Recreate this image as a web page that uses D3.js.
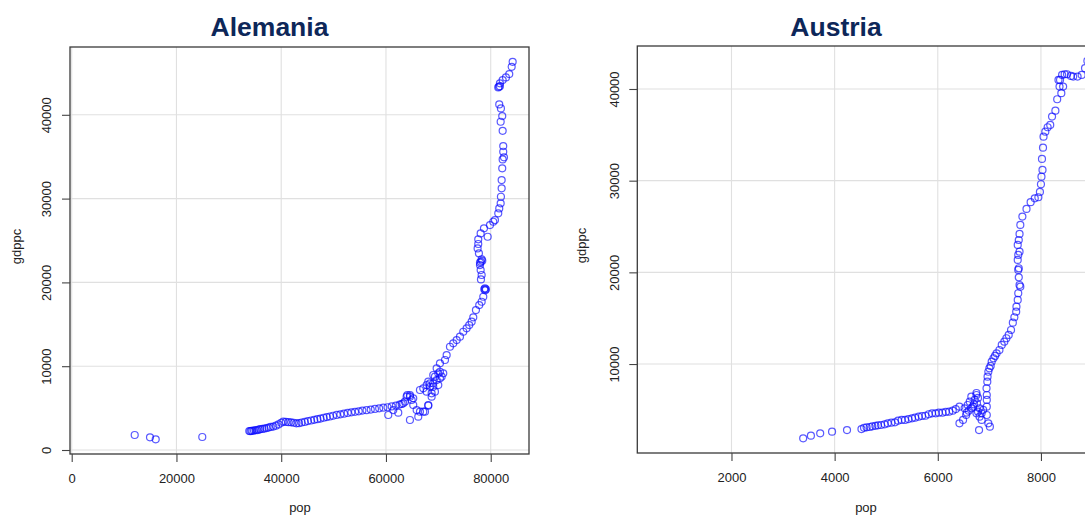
<!DOCTYPE html>
<html>
<head>
<meta charset="utf-8">
<script src="https://cdn.jsdelivr.net/npm/d3@7"></script>
<style>
  html, body { margin: 0; padding: 0; background: #ffffff; }
  svg { display: block; font-family: "Liberation Sans", Arial, Helvetica, sans-serif; }
</style>
</head>
<body>
<svg id="chart" width="1085" height="517"></svg>
<script>
// Germany: population (thousands) and GDP per capita
const deuPop = [
  12030, 14950, 16040, 24930,
  33900, 34100, 34300, 34500, 34800, 35100, 35400, 35700, 36000, 36400, 36800, 37200, 37600, 38000,
  38500, 39000, 39500, 40000, 40400, 40900, 41400, 41900, 42400, 42900, 43400, 43900, 44500, 45100,
  45700, 46300, 46900, 47500, 48100, 48700, 49300, 49900, 50600, 51300, 52000, 52700, 53400, 54100,
  54800, 55500, 56300, 57100, 57900, 58700, 59500, 60300, 61100, 61900, 62600,
  63000, 63630, 64070, 64580, 64900, 65210, 60440, 61400, 62350, 63300, 63950, 64580, 65210, 64580,
  66170, 65860, 67120, 68080, 66490, 67450, 68080, 68720, 69350, 69990, 70310, 70940, 66490, 67120,
  67770, 68720, 69030, 67770, 68400, 68400, 69030, 69350, 69680, 69990, 70310, 70630, 68080, 69030,
  69680, 70310,
  71270, 71590, 72220, 72850, 73500, 74130, 74760, 75400, 75900, 76360, 76670, 77180, 77810, 78270,
  78580, 78770, 78900, 79090, 78950,
  78140, 78270, 78080, 77950, 77950, 78140, 78270, 78390, 77750, 77500, 77620, 77620, 78080, 78710,
  79420, 79860, 80490, 80810, 81440, 81630, 81900, 81950, 82090, 82090, 82200, 82280, 82530, 82390,
  82390, 82280, 81900, 82200, 81950, 81630, 81440, 81570, 81760, 81760, 82280, 82910, 83540, 84000,
  84190
];
const deuGdppc = [
  1790, 1515, 1277, 1550,
  2270, 2250, 2300, 2280, 2330, 2380, 2360, 2430, 2480, 2520, 2560, 2620, 2680, 2750,
  2800, 2900, 3050, 3250, 3380, 3350, 3320, 3300, 3250, 3180, 3200, 3280, 3350, 3450,
  3520, 3600, 3680, 3750, 3850, 3930, 4000, 4090, 4180, 4260, 4330, 4420, 4500, 4560,
  4620, 4700, 4750, 4830, 4900, 4970, 5050, 5100, 5200, 5300, 5420,
  5490, 5770, 6560, 6360, 5965, 5370, 4175, 4770, 4450, 5570, 6360, 6560, 6170, 3580,
  3975, 4770, 4570, 5290, 4570, 4570, 5370, 6360, 6960, 7750, 8550, 9150, 7160, 7360,
  6960, 6760, 7550, 7750, 7550, 7960, 7960, 8750, 8350, 9150, 9340, 8750, 8150, 8950,
  9750, 10340,
  10740, 11330, 12320, 12730, 13120, 13520, 14110, 14520, 14910, 15310, 15830, 16700, 17300, 17690,
  18290, 19170, 19290, 19170, 19050,
  20360, 20880, 21470, 22070, 22350, 22460, 22750, 22580, 23470, 24060, 24580, 25140, 25850, 26450,
  25450, 26840, 27240, 27440, 28240, 28830, 29430, 30220, 31220, 32210, 33610, 34680, 34920, 35590,
  36270, 38090, 39170, 39850, 40760, 41240, 43270, 43340, 43420, 43750, 44140, 44460, 44860, 45730,
  46320
];

// Austria: population (thousands) and GDP per capita
const autPop = [
  3390, 3540, 3720, 3950, 4240, 4520,
  4570, 4620, 4680, 4730, 4790, 4840, 4900, 4970, 5030, 5100, 5170, 5230, 5300, 5365, 5430, 5500,
  5560, 5630, 5695, 5760, 5825, 5890, 5960, 6020, 6090, 6155, 6220, 6290, 6350, 6420,
  6420, 6490, 6550, 6520, 6580, 6620, 6650, 6680, 6715, 6750, 6760, 6780, 6810, 6800, 6750, 6810,
  6850, 6950, 6950, 6950, 6950, 6980, 7010, 6850, 6650, 6600, 6560, 6700, 6780, 6880, 6750,
  6945, 6960, 6965, 6980, 7000, 7025, 7045, 7080, 7110, 7140, 7195, 7240, 7290, 7330, 7375, 7420,
  7455, 7485, 7520, 7525, 7550, 7560, 7600, 7585, 7570, 7560, 7570, 7550, 7560, 7585, 7550, 7570,
  7585, 7600, 7640, 7720, 7800, 7880, 7950, 7980, 8000, 8010, 8030, 8020, 8040, 8050, 8085, 8130,
  8180, 8215, 8280, 8315, 8395, 8430, 8360, 8340, 8370, 8410, 8460, 8505, 8580, 8625, 8710, 8790,
  8855, 8900
];
const autGdppc = [
  1900, 2180, 2440, 2620, 2800, 2910,
  3050, 3100, 3130, 3200, 3260, 3310, 3350, 3420, 3530, 3600, 3640, 3820, 3900, 3900, 4000, 4080,
  4150, 4260, 4330, 4360, 4520, 4620, 4620, 4690, 4690, 4770, 4800, 4910, 5090, 5350,
  3530, 3900, 4440, 5170, 5530, 5890, 6440, 5350, 6080, 6620, 5720, 4800, 4260, 2800, 4620, 5170,
  4620, 6620, 6080, 5350, 4440, 3530, 3170, 3900, 5170, 4910, 4700, 5600, 6300, 5000, 6840,
  7350, 8080, 8620, 9160, 9530, 9790, 10260, 10630, 10880, 11170, 11530, 12080, 12440, 12810, 13170, 13710,
  14510, 15100, 15710, 16260, 16990, 17720, 18440, 18620, 19460, 20260, 20450, 21350, 21900, 22260, 22990, 23530,
  24190, 25170, 26080, 26920, 27650, 28080, 28190, 28770, 29610, 30440, 31170, 32370, 33600, 34800, 35350, 35830,
  36080, 36990, 37640, 38880, 39540, 40260, 40260, 40990, 40990, 41540, 41610, 41610, 41430, 41350, 41350, 41540,
  42270, 43060
];

// Axis tick values
const deuPopTicks = [0, 20000, 40000, 60000, 80000];
const deuGdppcTicks = [0, 10000, 20000, 30000, 40000];
const autPopTicks = [2000, 4000, 6000, 8000];
const autGdppcTicks = [10000, 20000, 30000, 40000];

const titles = ["Alemania", "Austria"];

const svg = d3.select("#chart");

const panels = [
  {
    title: titles[0], pop: deuPop, gdppc: deuGdppc,
    xDomain: [-325, 87310], yDomain: [-477, 48090],
    box: { x0: 70, x1: 529, y0: 47, y1: 454 },
    xTicks: deuPopTicks, yTicks: deuGdppcTicks,
    titleX: 269.5, xLabelX: 300, yLabelX: 20.5, yTickOffset: 19
  },
  {
    title: titles[1], pop: autPop, gdppc: autGdppc,
    xDomain: [174, 9300], yDomain: [295, 44690],
    box: { x0: 637.3, x1: 1108, y0: 46, y1: 453 },
    xTicks: autPopTicks, yTicks: autGdppcTicks,
    titleX: 836, xLabelX: 866, yLabelX: 585.5, yTickOffset: 18.5
  }
];

panels.forEach(p => {
  const { x0, x1, y0, y1 } = p.box;
  const x = d3.scaleLinear().domain(p.xDomain).range([x0, x1]);
  const y = d3.scaleLinear().domain(p.yDomain).range([y1, y0]);
  const g = svg.append("g");

  // grid
  g.append("g").selectAll("line").data(p.xTicks).join("line")
    .attr("x1", d => x(d)).attr("x2", d => x(d))
    .attr("y1", y0).attr("y2", y1)
    .attr("stroke", "#e0e0e0").attr("stroke-width", 1.1);
  g.append("g").selectAll("line").data(p.yTicks).join("line")
    .attr("x1", x0).attr("x2", x1)
    .attr("y1", d => y(d)).attr("y2", d => y(d))
    .attr("stroke", "#e0e0e0").attr("stroke-width", 1.1);

  // points
  g.append("g").selectAll("circle").data(d3.zip(p.pop, p.gdppc)).join("circle")
    .attr("cx", d => x(d[0]))
    .attr("cy", d => y(d[1]))
    .attr("r", 3.5)
    .attr("fill", "none")
    .attr("stroke", "rgba(10,10,255,0.68)")
    .attr("stroke-width", 1.2);

  // frame
  g.append("rect")
    .attr("x", x0).attr("y", y0)
    .attr("width", x1 - x0).attr("height", y1 - y0)
    .attr("fill", "none").attr("stroke", "#3a3a3a").attr("stroke-width", 1.3);

  // x axis
  const xa = g.append("g").attr("transform", `translate(0,${y1})`)
    .call(d3.axisBottom(x).tickValues(p.xTicks).tickSize(8).tickFormat(d3.format("d")));
  xa.select(".domain").remove();
  xa.selectAll(".tick line").attr("stroke", "#444").attr("stroke-width", 1.1);
  xa.selectAll(".tick text")
    .attr("y", 29).attr("dy", 0)
    .attr("fill", "#222").style("font-size", "13px");

  // y axis
  const ya = g.append("g").attr("transform", `translate(${x0},0)`)
    .call(d3.axisLeft(y).tickValues(p.yTicks).tickSize(8).tickFormat(d3.format("d")));
  ya.select(".domain").remove();
  ya.selectAll(".tick line").attr("stroke", "#444").attr("stroke-width", 1.1);
  ya.selectAll(".tick text")
    .attr("transform", "rotate(-90)")
    .attr("x", 0).attr("y", -p.yTickOffset).attr("dy", 0)
    .attr("text-anchor", "middle")
    .attr("fill", "#222").style("font-size", "13px");

  // labels
  g.append("text")
    .attr("x", p.xLabelX).attr("y", 512)
    .attr("text-anchor", "middle")
    .attr("fill", "#222").style("font-size", "13px")
    .text("pop");
  g.append("text")
    .attr("transform", `translate(${p.yLabelX},${(y0 + y1) / 2 - 4}) rotate(-90)`)
    .attr("text-anchor", "middle")
    .attr("fill", "#222").style("font-size", "13px")
    .text("gdppc");

  // title
  g.append("text")
    .attr("x", p.titleX).attr("y", 35.5)
    .attr("text-anchor", "middle")
    .attr("fill", "#0d2759")
    .style("font-size", "26.5px").style("font-weight", "bold")
    .text(p.title);
});
</script>
</body>
</html>
